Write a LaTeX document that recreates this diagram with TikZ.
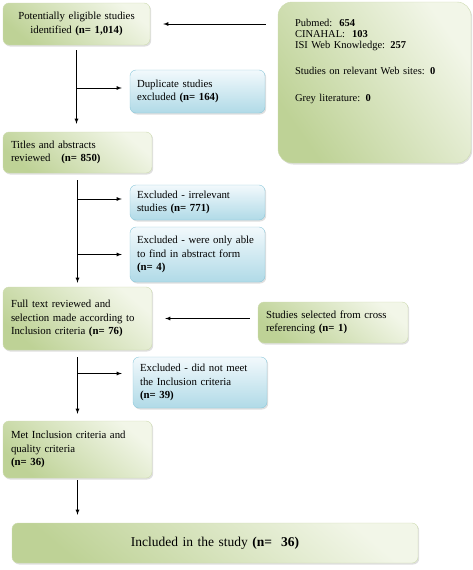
\documentclass[tikz,border=0pt]{standalone}
\usepackage{fontspec}
\setmainfont{Liberation Serif}
\usepackage{tikz}
\usetikzlibrary{shadows}

\definecolor{gdark}{RGB}{190,210,150}
\definecolor{glight}{RGB}{242,246,232}
\definecolor{gline}{RGB}{205,219,176}
\definecolor{bdark}{RGB}{176,218,231}
\definecolor{blight}{RGB}{242,249,252}
\definecolor{bline}{RGB}{140,200,218}

\tikzset{
  box/.style={rectangle, rounded corners=6pt, inner xsep=8pt, inner ysep=4pt,
    align=left, font=\fontsize{10.8}{13.5}\selectfont,
    drop shadow={shadow xshift=1.2pt, shadow yshift=-1.5pt, opacity=0.25}},
  greenbox/.style={box, draw=gline, top color=glight, bottom color=gdark, shading angle=-40},
  bluebox/.style={box, inner xsep=7pt, draw=bline, top color=blight, bottom color=bdark},
  flow/.style={->, line width=0.8pt}
}

\begin{document}
\begin{tikzpicture}[x=1pt, y=-1pt, >=latex]
   \useasboundingbox (0,0) rectangle (473,570);

   % left column
   \node[greenbox, text width=131pt, minimum height=42pt, align=center] (ident) at (76.5,24)
        {Potentially eligible studies\\ identified \textbf{(n= 1,014)}};
   \node[greenbox, text width=133pt, minimum height=41pt] (titles) at (77.5,152.5)
        {Titles and abstracts\\ reviewed\quad \textbf{(n= 850)}};
   \node[greenbox, text width=133pt, minimum height=63pt] (full) at (77.5,318.5)
        {Full text reviewed and\\ selection made according to\\ Inclusion criteria \textbf{(n= 76)}};
   \node[greenbox, text width=133pt, minimum height=57pt] (met) at (77.5,449.5)
        {Met Inclusion criteria and\\ quality criteria\\ \textbf{(n= 36)}};
   \node[greenbox, text width=390pt, minimum height=40pt, align=center,
         font=\fontsize{13.5}{16}\selectfont] (incl) at (215,543)
        {Included in the study \textbf{(n=\ \ 36)}};

   % sources
   \node[greenbox, rounded corners=14pt, inner xsep=17pt, inner ysep=12pt, text width=159pt,
         text height=12pt, text depth=125pt, shading angle=-55,
         font=\fontsize{10.5}{11.3}\selectfont] (src) at (374.5,82.5)
        {Pubmed:\ \ \textbf{654}\\
         CINAHAL:\ \ \textbf{103}\\
         ISI Web Knowledge: \textbf{257}\\[15pt]
         Studies on relevant Web sites: \textbf{0}\\[15pt]
         Grey literature: \textbf{0}};
   \node[greenbox, text width=134pt, minimum height=41pt] (cross) at (333,322.5)
        {Studies selected from cross\\ referencing \textbf{(n= 1)}};

   % exclusions
   \node[bluebox, text width=121pt, minimum height=43pt] (dup) at (197.5,91.5)
        {Duplicate studies\\ excluded \textbf{(n= 164)}};
   \node[bluebox, text width=121pt, minimum height=35pt] (irrel) at (197.5,202.5)
        {Excluded - irrelevant\\ studies \textbf{(n= 771)}};
   \node[bluebox, text width=121pt, minimum height=55pt] (abstr) at (197.5,254.5)
        {Excluded - were only able\\ to find in abstract form\\ \textbf{(n= 4)}};
   \node[bluebox, text width=120pt, minimum height=51pt] (notmet) at (200,382.5)
        {Excluded - did not meet\\ the Inclusion criteria\\ \textbf{(n= 39)}};

   % main line
   \draw[flow, shorten <=5pt, shorten >=8pt] (ident.south) -- (ident.south |- titles.north);
   \draw[flow, shorten <=7pt, shorten >=4pt] (titles.south) -- (full.north);
   \draw[flow, shorten <=7pt, shorten >=7pt] (full.south) -- (met.north);
   \draw[flow, shorten <=2pt, shorten >=8pt] (met.south) -- (met.south |- incl.north);

   % into the main line
   \draw[flow, shorten <=12pt, shorten >=13pt] (src.west |- ident.east) -- (ident.east);
   \draw[flow, shorten <=8pt, shorten >=13pt] ([yshift=4pt]cross.west) -- ([yshift=4pt]cross.west -| full.east);

   % out of the main line
   \draw[flow, shorten >=8pt] ([yshift=3.5pt]dup.west -| ident.south) -- ([yshift=3.5pt]dup.west);
   \draw[flow, shorten >=8pt] ([yshift=3.5pt]irrel.west -| titles.south) -- ([yshift=3.5pt]irrel.west);
   \draw[flow, shorten >=8pt] (abstr.west -| titles.south) -- (abstr.west);
   \draw[flow, shorten >=11pt] ([yshift=9pt]notmet.west -| full.south) -- ([yshift=9pt]notmet.west);
\end{tikzpicture}
\end{document}
